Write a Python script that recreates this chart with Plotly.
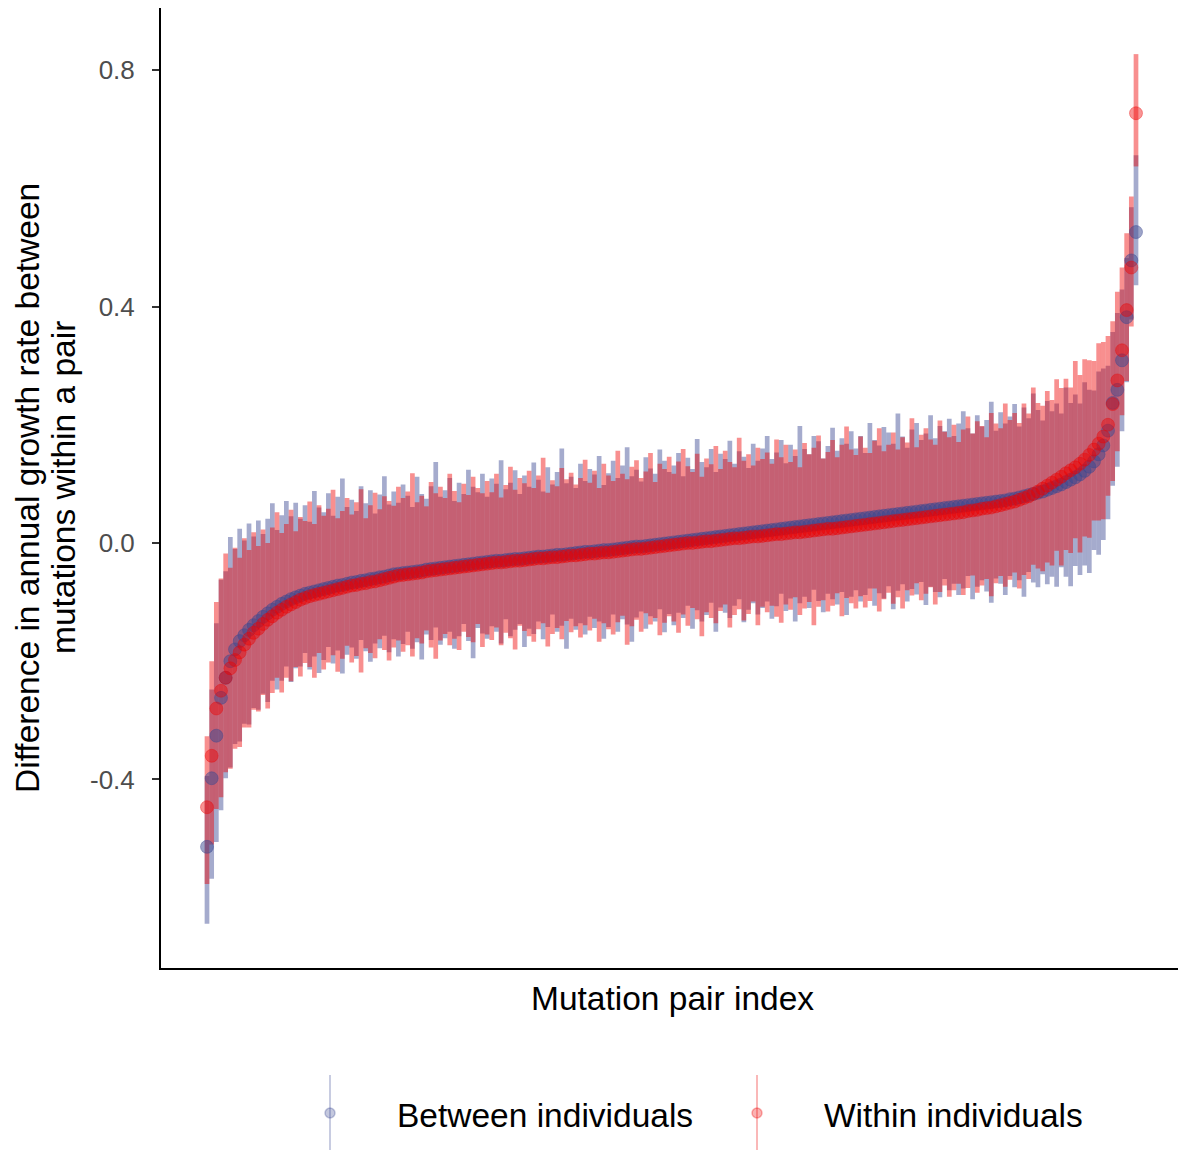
import plotly.graph_objects as go

# ---------------- data (sorted by value) ----------------
series_names = ["Between individuals", "Within individuals"]

between_est = [
    -0.514,-0.398,-0.326,-0.262,-0.228,-0.200,-0.180,-0.166,-0.156,-0.147,
    -0.139,-0.132,-0.125,-0.119,-0.113,-0.108,-0.103,-0.099,-0.095,-0.092,
    -0.089,-0.086,-0.084,-0.082,-0.080,-0.078,-0.076,-0.074,-0.072,-0.071,
    -0.069,-0.067,-0.066,-0.064,-0.063,-0.061,-0.060,-0.058,-0.057,-0.055,
    -0.053,-0.052,-0.051,-0.050,-0.049,-0.048,-0.047,-0.045,-0.044,-0.043,
    -0.042,-0.041,-0.040,-0.039,-0.038,-0.037,-0.036,-0.035,-0.034,-0.033,
    -0.032,-0.031,-0.030,-0.030,-0.029,-0.028,-0.027,-0.027,-0.026,-0.025,
    -0.024,-0.023,-0.023,-0.022,-0.021,-0.020,-0.020,-0.019,-0.018,-0.017,
    -0.016,-0.015,-0.015,-0.014,-0.013,-0.012,-0.012,-0.011,-0.010,-0.009,
    -0.008,-0.007,-0.006,-0.006,-0.005,-0.004,-0.003,-0.002,-0.001,0.000,
    0.001,0.002,0.003,0.004,0.005,0.006,0.007,0.008,0.009,0.010,
    0.011,0.012,0.013,0.014,0.015,0.016,0.017,0.018,0.019,0.020,
    0.021,0.022,0.023,0.024,0.025,0.026,0.027,0.028,0.029,0.030,
    0.031,0.032,0.033,0.034,0.035,0.036,0.037,0.038,0.039,0.040,
    0.041,0.042,0.043,0.044,0.045,0.046,0.047,0.048,0.049,0.050,
    0.051,0.052,0.053,0.054,0.055,0.056,0.057,0.058,0.059,0.060,
    0.061,0.062,0.063,0.064,0.065,0.066,0.067,0.068,0.069,0.070,
    0.071,0.072,0.074,0.075,0.077,0.079,0.081,0.083,0.085,0.087,
    0.090,0.093,0.096,0.099,0.103,0.107,0.111,0.116,0.122,0.129,
    0.138,0.150,0.165,0.190,0.237,0.259,0.309,0.382,0.478,0.526,
]
between_err_up = [
    0.12,0.15,0.19,0.20,0.18,0.21,0.17,0.19,0.16,0.18,0.15,0.17,0.14,0.16,0.18,0.13,0.15,0.17,0.14,0.16,
    0.13,0.15,0.12,0.17,0.14,0.13,0.16,0.12,0.15,0.18,0.13,0.14,0.12,0.16,0.13,0.15,0.11,0.14,0.17,0.12,
    0.14,0.12,0.15,0.13,0.11,0.16,0.13,0.12,0.14,0.18,0.12,0.13,0.15,0.11,0.14,0.12,0.16,0.13,0.12,0.15,
    0.11,0.14,0.13,0.17,0.12,0.13,0.15,0.11,0.14,0.12,0.16,0.13,0.11,0.15,0.12,0.14,0.18,0.12,0.13,0.11,
    0.15,0.12,0.14,0.13,0.16,0.11,0.13,0.15,0.12,0.14,0.17,0.12,0.13,0.11,0.15,0.13,0.12,0.16,0.14,0.12,
    0.13,0.15,0.11,0.14,0.12,0.17,0.13,0.12,0.15,0.11,0.14,0.13,0.16,0.12,0.14,0.13,0.11,0.15,0.12,0.14,
    0.16,0.12,0.13,0.15,0.11,0.14,0.12,0.17,0.13,0.12,0.15,0.14,0.11,0.13,0.16,0.12,0.14,0.13,0.15,0.12,
    0.14,0.11,0.16,0.13,0.12,0.15,0.14,0.12,0.17,0.13,0.11,0.14,0.15,0.12,0.13,0.16,0.12,0.14,0.13,0.15,
    0.12,0.14,0.16,0.13,0.12,0.15,0.13,0.14,0.17,0.12,0.15,0.13,0.14,0.16,0.12,0.15,0.13,0.17,0.14,0.12,
    0.15,0.13,0.14,0.12,0.16,0.13,0.14,0.12,0.15,0.13,0.12,0.14,0.13,0.11,0.12,0.13,0.12,0.10,0.09,0.13,
]
between_err_down = [
    0.13,0.17,0.18,0.19,0.17,0.18,0.16,0.17,0.15,0.16,0.14,0.15,0.13,0.15,0.12,0.14,0.13,0.11,0.14,0.12,
    0.12,0.10,0.13,0.11,0.14,0.12,0.10,0.13,0.11,0.15,0.12,0.11,0.13,0.10,0.12,0.14,0.11,0.12,0.10,0.13,
    0.11,0.14,0.12,0.10,0.13,0.12,0.15,0.11,0.12,0.10,0.13,0.12,0.11,0.14,0.12,0.10,0.13,0.16,0.11,0.12,
    0.13,0.11,0.12,0.14,0.10,0.13,0.12,0.11,0.15,0.12,0.13,0.11,0.14,0.12,0.10,0.13,0.12,0.16,0.11,0.13,
    0.12,0.14,0.11,0.13,0.12,0.15,0.13,0.11,0.14,0.12,0.13,0.16,0.12,0.11,0.14,0.12,0.13,0.11,0.15,0.12,
    0.14,0.12,0.13,0.11,0.15,0.12,0.14,0.13,0.11,0.16,0.12,0.13,0.14,0.12,0.11,0.15,0.13,0.12,0.14,0.13,
    0.12,0.15,0.13,0.11,0.14,0.12,0.16,0.13,0.12,0.14,0.11,0.13,0.15,0.12,0.13,0.14,0.12,0.16,0.13,0.12,
    0.14,0.13,0.12,0.15,0.13,0.14,0.12,0.16,0.13,0.12,0.15,0.13,0.14,0.12,0.16,0.13,0.14,0.15,0.12,0.14,
    0.13,0.15,0.14,0.12,0.16,0.14,0.13,0.15,0.17,0.13,0.14,0.16,0.13,0.15,0.14,0.17,0.13,0.15,0.16,0.14,
    0.16,0.15,0.17,0.14,0.16,0.18,0.15,0.17,0.16,0.18,0.15,0.17,0.16,0.15,0.14,0.13,0.12,0.11,0.10,0.09,
]

within_est = [
    -0.447,-0.360,-0.280,-0.250,-0.228,-0.212,-0.198,-0.185,-0.172,-0.162,
    -0.152,-0.145,-0.137,-0.130,-0.124,-0.118,-0.113,-0.108,-0.104,-0.100,
    -0.096,-0.093,-0.090,-0.088,-0.086,-0.084,-0.082,-0.080,-0.078,-0.076,
    -0.074,-0.072,-0.071,-0.069,-0.068,-0.066,-0.065,-0.063,-0.061,-0.059,
    -0.057,-0.055,-0.054,-0.053,-0.052,-0.051,-0.050,-0.048,-0.047,-0.046,
    -0.045,-0.044,-0.043,-0.042,-0.041,-0.040,-0.039,-0.038,-0.037,-0.036,
    -0.035,-0.034,-0.033,-0.033,-0.032,-0.031,-0.030,-0.030,-0.029,-0.028,
    -0.027,-0.026,-0.026,-0.025,-0.024,-0.024,-0.023,-0.022,-0.021,-0.021,
    -0.020,-0.019,-0.018,-0.018,-0.017,-0.016,-0.016,-0.015,-0.014,-0.013,
    -0.012,-0.011,-0.010,-0.010,-0.009,-0.008,-0.007,-0.006,-0.005,-0.004,
    -0.003,-0.002,-0.001,0.000,0.000,0.001,0.002,0.003,0.003,0.004,
    0.005,0.006,0.007,0.008,0.008,0.009,0.010,0.011,0.011,0.012,
    0.013,0.014,0.015,0.015,0.016,0.017,0.018,0.018,0.019,0.020,
    0.021,0.022,0.023,0.024,0.024,0.025,0.026,0.027,0.028,0.029,
    0.030,0.031,0.032,0.033,0.034,0.035,0.036,0.037,0.038,0.039,
    0.040,0.041,0.042,0.043,0.044,0.045,0.046,0.047,0.048,0.049,
    0.050,0.051,0.052,0.054,0.055,0.056,0.058,0.059,0.060,0.062,
    0.064,0.066,0.068,0.070,0.073,0.076,0.079,0.083,0.087,0.092,
    0.097,0.102,0.107,0.112,0.118,0.123,0.128,0.134,0.141,0.149,
    0.158,0.168,0.180,0.200,0.235,0.275,0.326,0.394,0.466,0.727,
]
within_err_up = [
    0.12,0.16,0.18,0.19,0.21,0.17,0.19,0.16,0.18,0.15,0.17,0.14,0.16,0.13,0.15,0.17,0.13,0.14,0.16,0.12,
    0.14,0.13,0.16,0.12,0.15,0.13,0.14,0.17,0.12,0.13,0.15,0.12,0.14,0.16,0.11,0.13,0.15,0.12,0.14,0.13,
    0.12,0.15,0.13,0.14,0.17,0.12,0.13,0.11,0.15,0.13,0.14,0.12,0.16,0.13,0.11,0.14,0.12,0.15,0.13,0.12,
    0.14,0.12,0.15,0.11,0.13,0.16,0.12,0.14,0.13,0.15,0.12,0.14,0.17,0.11,0.13,0.12,0.15,0.13,0.14,0.12,
    0.13,0.16,0.12,0.14,0.11,0.15,0.13,0.12,0.17,0.13,0.12,0.14,0.15,0.12,0.13,0.16,0.11,0.14,0.13,0.15,
    0.12,0.14,0.16,0.13,0.12,0.15,0.11,0.14,0.13,0.16,0.12,0.15,0.13,0.12,0.17,0.13,0.14,0.12,0.15,0.13,
    0.14,0.12,0.16,0.13,0.15,0.12,0.14,0.11,0.15,0.13,0.14,0.16,0.12,0.13,0.15,0.12,0.14,0.17,0.13,0.12,
    0.15,0.13,0.12,0.14,0.16,0.12,0.13,0.15,0.12,0.14,0.13,0.17,0.12,0.14,0.15,0.13,0.12,0.16,0.14,0.13,
    0.15,0.12,0.14,0.16,0.13,0.15,0.14,0.12,0.16,0.14,0.13,0.17,0.14,0.15,0.13,0.16,0.14,0.18,0.15,0.14,
    0.16,0.14,0.17,0.15,0.16,0.14,0.18,0.15,0.17,0.16,0.15,0.17,0.16,0.15,0.14,0.15,0.14,0.13,0.12,0.10,
]
within_err_down = [
    0.13,0.15,0.17,0.18,0.16,0.17,0.15,0.16,0.14,0.15,0.13,0.14,0.12,0.15,0.13,0.11,0.14,0.12,0.13,0.11,
    0.13,0.11,0.12,0.14,0.10,0.13,0.12,0.11,0.14,0.12,0.10,0.13,0.12,0.15,0.11,0.12,0.13,0.10,0.12,0.14,
    0.12,0.11,0.13,0.12,0.14,0.11,0.12,0.10,0.13,0.15,0.12,0.11,0.13,0.12,0.14,0.11,0.12,0.13,0.10,0.14,
    0.12,0.13,0.11,0.14,0.12,0.13,0.15,0.11,0.12,0.13,0.14,0.12,0.11,0.15,0.13,0.12,0.14,0.11,0.13,0.12,
    0.14,0.12,0.13,0.11,0.15,0.12,0.13,0.14,0.12,0.11,0.16,0.13,0.12,0.14,0.11,0.13,0.12,0.15,0.13,0.12,
    0.13,0.15,0.12,0.14,0.11,0.13,0.16,0.12,0.13,0.14,0.12,0.11,0.15,0.13,0.12,0.14,0.13,0.11,0.15,0.12,
    0.13,0.12,0.14,0.15,0.12,0.13,0.11,0.14,0.13,0.12,0.16,0.13,0.12,0.14,0.13,0.11,0.15,0.12,0.13,0.14,
    0.12,0.14,0.13,0.11,0.15,0.13,0.12,0.14,0.13,0.15,0.12,0.13,0.11,0.14,0.13,0.12,0.15,0.13,0.12,0.14,
    0.13,0.12,0.14,0.13,0.11,0.14,0.13,0.12,0.15,0.13,0.12,0.14,0.13,0.12,0.15,0.13,0.14,0.12,0.13,0.14,
    0.13,0.14,0.12,0.15,0.13,0.14,0.12,0.15,0.13,0.14,0.12,0.13,0.14,0.12,0.13,0.12,0.11,0.12,0.10,0.09,
]

y_tick_vals = [-0.4, 0.0, 0.4, 0.8]
y_tick_text = ["-0.4", "0.0", "0.4", "0.8"]

x_title = "Mutation pair index"
y_title_lines = ["Difference in annual growth rate between", "mutations within a pair"]

# ---------------- styling ----------------
FONT = "Liberation Sans, Arial, Helvetica, sans-serif"
BLUE = (59, 73, 146)
RED = (238, 0, 0)


def rgba(c, a):
    return f"rgba({c[0]},{c[1]},{c[2]},{a})"


between_x = list(range(1, len(between_est) + 1))
within_x = list(range(1, len(within_est) + 1))

fig = go.Figure()

# error bars (both series first, as in the layered original)
for xs, ys, up, dn, col, a in [
    (between_x, between_est, between_err_up, between_err_down, BLUE, 0.46),
    (within_x, within_est, within_err_up, within_err_down, RED, 0.44),
]:
    fig.add_trace(go.Scatter(
        x=xs, y=ys, mode="markers",
        marker=dict(size=2, color="rgba(0,0,0,0)"),
        error_y=dict(type="data", symmetric=False, array=up, arrayminus=dn,
                     color=rgba(col, a), thickness=4.7, width=0),
        showlegend=False, hoverinfo="skip", cliponaxis=False,
    ))

# points
for xs, ys, col, a in [(between_x, between_est, BLUE, 0.5), (within_x, within_est, RED, 0.42)]:
    fig.add_trace(go.Scatter(
        x=xs, y=ys, mode="markers",
        marker=dict(size=13, color=rgba(col, a),
                    line=dict(width=0.8, color=rgba(col, a))),
        showlegend=False, cliponaxis=False,
    ))

# geometry (pixel positions in the 1178x1151 frame)
L, T, W, H = 161, 8, 1178, 1151
PB = 968
PW = W - L
PH = PB - T


def px2paper_x(px):
    return (px - L) / PW


def px2paper_y(py):
    return (PB - py) / PH


n = len(within_est)
scale = (1136 - 207) / (n - 1)
xmin = 1 - (207 - L) / scale
xmax = xmin + PW / scale

TITLE_SIZE = 33.5
annotations = [
    dict(text=x_title, x=px2paper_x(672), y=px2paper_y(998), xref="paper", yref="paper",
         xanchor="center", yanchor="middle", showarrow=False,
         font=dict(family=FONT, size=TITLE_SIZE, color="black")),
]
for line, cx in zip(y_title_lines, [27, 63]):
    annotations.append(dict(text=line, x=px2paper_x(cx), y=px2paper_y(488),
                            xref="paper", yref="paper", xanchor="center", yanchor="middle",
                            showarrow=False, textangle=-90,
                            font=dict(family=FONT, size=TITLE_SIZE, color="black")))
shapes = []
legend_items = [(series_names[0], 330, 395, BLUE), (series_names[1], 757, 822, RED)]
for name, kx, tx, col in legend_items:
    shapes.append(dict(type="line", xref="paper", yref="paper",
                       x0=px2paper_x(kx), x1=px2paper_x(kx),
                       y0=px2paper_y(1075), y1=px2paper_y(1150),
                       line=dict(color=rgba(col, 0.28), width=2)))
    shapes.append(dict(type="circle", xref="paper", yref="paper",
                       xsizemode="pixel", ysizemode="pixel",
                       xanchor=px2paper_x(kx), yanchor=px2paper_y(1113),
                       x0=-5, x1=5, y0=-5, y1=5,
                       fillcolor=rgba(col, 0.3), line=dict(color=rgba(col, 0.3), width=1.5)))
    annotations.append(dict(text=name, x=px2paper_x(tx), y=px2paper_y(1115),
                            xref="paper", yref="paper", xanchor="left", yanchor="middle",
                            showarrow=False,
                            font=dict(family=FONT, size=TITLE_SIZE, color="black")))

fig.update_layout(
    width=W, height=H,
    margin=dict(l=L, r=0, t=T, b=H - PB, pad=0),
    paper_bgcolor="white", plot_bgcolor="white",
    font=dict(family=FONT),
    showlegend=False,
    xaxis=dict(range=[xmin, xmax], showticklabels=False, ticks="", showgrid=False,
               zeroline=False, showline=True, linecolor="black", linewidth=2),
    yaxis=dict(range=[-0.719, 0.905], tickvals=y_tick_vals, ticktext=y_tick_text,
               ticks="outside", ticklen=7, tickwidth=1.5, tickcolor="#333333",
               tickfont=dict(family=FONT, size=26, color="#4D4D4D"),
               ticklabelstandoff=12,
               showgrid=False, zeroline=False, showline=True, linecolor="black", linewidth=2),
    annotations=annotations,
    shapes=shapes,
)

fig.write_html(
    "out.html",
    config={"displayModeBar": False},
    post_script="document.body.style.margin='0';document.body.style.padding='0';",
)
